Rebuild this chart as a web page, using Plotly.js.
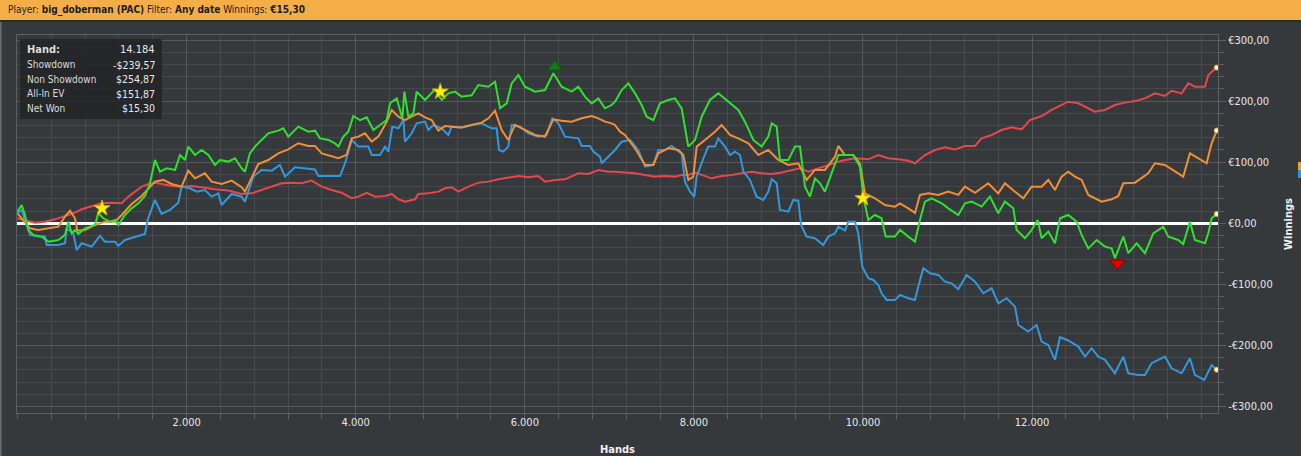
<!DOCTYPE html>
<html>
<head>
<meta charset="utf-8">
<script src="https://cdn.plot.ly/plotly-3.0.1.min.js"></script>
<style>
html,body{margin:0;padding:0;background:#36393c;overflow:hidden;}
#chart{width:1301px;height:456px;}
</style>
</head>
<body>
<div id="chart"></div>
<script>
// ---------- DATA (hand number, cumulative winnings) ----------
const nonShowdown = [[0,8.2],[89,5.5],[207,1.1],[325,2.7],[443,6.5],[562,12],[660,16.4],[759,22.9],[877,27.3],[995,32.7],[1114,33.8],[1232,32.7],[1311,43.6],[1390,51.8],[1469,60],[1548,64.4],[1626,66.5],[1705,64.4],[1823,61],[1941,60],[2060,61],[2178,59],[2336,55.6],[2493,53.5],[2651,48],[2769,49],[2887,54.5],[3006,61],[3124,65.5],[3242,66.5],[3360,65.5],[3479,70],[3519,66.5],[3598,60],[3716,54.5],[3834,50],[3953,41],[4031,43.6],[4130,50],[4229,43.6],[4347,44.7],[4426,48],[4505,39.3],[4583,35.5],[4702,39.3],[4741,48],[4859,49],[4977,51.8],[5056,57.3],[5135,59],[5214,51.8],[5332,60],[5451,66.5],[5569,68.2],[5687,72],[5805,75.3],[5924,77.5],[6042,75.3],[6160,77.5],[6239,68.2],[6357,71],[6476,72],[6633,81.8],[6751,80.7],[6870,87.3],[6988,84.5],[7067,84.5],[7185,83],[7304,81.8],[7422,79],[7540,76.4],[7658,77.5],[7777,76.4],[7855,79],[7934,79],[8013,83],[8092,79],[8210,73.6],[8328,77.5],[8447,79],[8565,81.8],[8683,84.5],[8801,81.8],[8920,80.7],[9038,83],[9156,86.2],[9255,90],[9353,84.5],[9471,90],[9590,95.5],[9748,102.5],[9905,106.4],[10063,104.7],[10181,111.8],[10299,106.4],[10418,104.7],[10536,102.5],[10615,98.2],[10733,111.8],[10852,120],[10970,124.4],[11088,121],[11206,126.6],[11325,126.6],[11403,139],[11522,144.6],[11640,152.7],[11758,157],[11876,153.8],[11975,169],[12113,175.6],[12231,185.5],[12349,193.6],[12428,199],[12547,196.4],[12665,188],[12744,182.7],[12862,185.5],[12980,193.6],[13098,197.5],[13217,200],[13335,204.5],[13453,212.7],[13571,208.4],[13650,217],[13769,212.7],[13848,229],[13926,223.6],[14045,223.6],[14084,242.7],[14184,254.87]];

const allInEV = [[0,16.4],[69,5.5],[148,-8.2],[246,-10.9],[365,-8.2],[483,-5.5],[562,10.9],[621,20.7],[680,8.2],[708,-12],[798,-10.9],[917,-2.7],[1035,2.7],[1153,2.7],[1232,13.6],[1350,31.6],[1469,44.7],[1548,57.3],[1626,68.2],[1725,71],[1823,64.4],[1941,60],[2020,86.2],[2099,73.6],[2217,81.8],[2296,68.2],[2414,64.4],[2533,69.8],[2651,59],[2690,51.8],[2769,75.3],[2848,97],[2966,103.6],[3084,114.5],[3203,121],[3321,131],[3439,126.6],[3519,126.6],[3598,114.5],[3716,109],[3795,106.4],[3893,112],[3953,139],[4031,141.8],[4110,147.3],[4189,133.6],[4268,141.8],[4367,166.4],[4426,185.5],[4505,174.5],[4583,169],[4662,174.5],[4741,180],[4820,173.5],[4899,169],[4977,151.6],[5056,159.3],[5135,158.2],[5253,157],[5372,161],[5490,164.7],[5569,171.8],[5648,184.4],[5727,152.7],[5805,136.4],[5884,161],[6002,152.7],[6121,144.6],[6239,141.8],[6338,170.2],[6436,168],[6554,166.4],[6673,171.8],[6791,175.6],[6870,171.8],[6949,166.4],[7027,163.6],[7067,161],[7126,150],[7185,144.6],[7304,122.7],[7422,95.5],[7520,95.5],[7579,114.5],[7698,122.7],[7816,120],[7875,111.8],[7934,71],[7993,76.4],[8033,125.5],[8131,136.4],[8249,150],[8328,161],[8427,144.6],[8525,139],[8644,131],[8762,111.8],[8880,120],[8999,103.6],[9117,95.5],[9235,98.2],[9334,71],[9432,87.3],[9550,87.3],[9669,109],[9708,126.6],[9787,111.8],[9885,111.8],[9964,98],[10023,49],[10141,41],[10260,30],[10378,27.3],[10438,32.7],[10536,24.5],[10615,17],[10674,46.4],[10773,49],[10891,46.4],[11009,51.8],[11127,46.4],[11206,60],[11325,50],[11482,65.5],[11600,49],[11679,65.5],[11798,51.8],[11896,41],[11995,60],[12113,60],[12192,71],[12271,54.5],[12349,76.4],[12428,84.5],[12507,76.4],[12586,71],[12665,46.4],[12744,41],[12823,35.5],[12941,39.3],[13020,44.7],[13079,65.5],[13217,66.5],[13374,81.8],[13453,98.2],[13571,95.5],[13690,84.5],[13788,76.4],[13867,114.5],[13966,106.4],[14065,98.2],[14124,131],[14184,151.87]];

const netWon = [[0,19],[49,30],[89,13.6],[128,-10.9],[187,-19],[286,-21.8],[365,-30],[483,-27.3],[562,-19],[601,2.7],[641,-16.4],[680,-10.9],[719,-17.5],[798,-8.2],[917,-2.7],[956,16.4],[1015,8.2],[1094,2.7],[1153,5.5],[1193,-2.7],[1271,13.6],[1350,24.5],[1429,32.7],[1508,44.7],[1567,65.5],[1626,103.6],[1685,84.5],[1764,90],[1863,87.3],[1922,111.8],[1981,103.6],[2020,125.5],[2099,111.8],[2178,120],[2257,111.8],[2336,95.5],[2395,103.6],[2493,101],[2572,106.4],[2651,90],[2690,84.5],[2749,114.5],[2808,125.5],[2887,136.4],[2966,147.3],[3084,151.6],[3144,155.5],[3203,141.8],[3321,158.2],[3439,150],[3519,151.6],[3578,139],[3677,136.4],[3755,131],[3795,125.5],[3854,141.8],[3913,150],[3972,175.6],[4051,169],[4130,173.5],[4209,152.7],[4288,160.9],[4367,169],[4406,196.4],[4485,204.5],[4552,171.8],[4576,215.5],[4623,174.5],[4682,180],[4721,215.5],[4820,201.8],[4938,219.3],[5017,201.8],[5096,212.7],[5175,215.5],[5253,207.3],[5372,209.5],[5451,226.4],[5569,223.6],[5648,231.8],[5707,188.2],[5786,196.4],[5845,229],[5924,242.7],[6002,223.6],[6121,215.5],[6239,218.2],[6338,245.5],[6436,223.6],[6554,215.5],[6633,223.6],[6712,207.3],[6791,196.4],[6870,204.5],[6949,188.2],[7027,193.6],[7067,199],[7146,218.2],[7225,229],[7304,212.7],[7382,193.6],[7441,174.5],[7520,169],[7599,196.4],[7698,201.8],[7776,204.5],[7855,188.2],[7934,125.5],[8013,136.4],[8092,174.5],[8190,201.8],[8289,212.7],[8407,199],[8525,185.5],[8604,166.4],[8703,136.4],[8801,125.5],[8880,141.8],[8920,163.6],[8979,158.2],[9018,103.6],[9117,103.6],[9196,125.5],[9255,125.5],[9314,60],[9373,43.6],[9432,73.6],[9491,65.5],[9550,51.8],[9629,81.8],[9708,111.8],[9787,111.8],[9885,111.8],[9964,92.7],[10004,43.6],[10063,5.5],[10141,13.6],[10220,8.2],[10268,-21.8],[10378,-21.8],[10438,-10.9],[10536,-21.8],[10615,-30],[10674,5.5],[10733,35.5],[10812,41],[10930,32.7],[11009,24.5],[11127,13.6],[11206,32.7],[11285,35.5],[11403,27.3],[11502,43.6],[11600,16.4],[11679,35.5],[11778,24.5],[11817,-10.9],[11916,-24.5],[11995,-10.9],[12066,5.5],[12113,-24.5],[12192,-13.6],[12271,-32.7],[12330,8.2],[12428,13.6],[12527,2.7],[12586,-19],[12665,-41],[12763,-27.3],[12862,-38.2],[12941,-41],[12980,-57.3],[13079,-21.8],[13138,-49],[13237,-32.7],[13335,-49],[13433,-16.4],[13552,-5.5],[13611,-21.8],[13729,-27.3],[13788,-33.8],[13867,2.7],[13926,-27.3],[14045,-32.7],[14084,-16.4],[14124,8.2],[14184,15.3]];

const showdown = [[0,16.4],[49,21.8],[89,5.5],[148,-19],[246,-21.8],[325,-21.8],[345,-35.5],[483,-35.5],[562,-32.7],[581,-8.2],[660,-16.4],[700,-43.6],[759,-32.7],[877,-38.2],[976,-20.7],[1035,-30],[1153,-30],[1193,-37],[1271,-27.3],[1390,-23],[1508,-17.5],[1539,5.5],[1626,38.2],[1705,15.3],[1803,21.8],[1902,33.8],[1941,60],[2040,57.3],[2119,51.8],[2217,54.5],[2296,43.6],[2375,49],[2414,30],[2533,48],[2651,43.6],[2690,35.5],[2749,60],[2789,76.4],[2887,87.3],[3006,86.2],[3104,95.5],[3164,76.4],[3282,91.6],[3419,90],[3519,88],[3558,77.5],[3677,77.5],[3815,77.5],[3874,98.2],[3953,136.4],[4031,125.5],[4150,125.5],[4189,111.8],[4288,111.8],[4347,125.5],[4386,117.3],[4433,158.2],[4505,155.5],[4564,169],[4583,133.6],[4662,147.3],[4721,163.6],[4820,166.4],[4859,152.7],[4918,160.9],[5017,155.5],[5096,144.6],[5135,158.2],[5253,157],[5372,161],[5490,163.6],[5608,155.5],[5667,155.5],[5695,120],[5746,117.3],[5805,125.5],[5845,161],[5943,158.2],[6042,147.3],[6160,141.8],[6258,144.6],[6326,171.8],[6397,163.6],[6476,141.8],[6633,139],[6673,126.6],[6771,126.6],[6811,117.3],[6890,109],[6909,98.2],[6988,109],[7067,120],[7146,133.6],[7244,136.4],[7343,120],[7422,92.7],[7520,95.5],[7579,120],[7658,120],[7737,126.6],[7796,120],[7855,114.5],[7894,68.2],[7954,51.8],[8005,43.6],[8033,76.4],[8112,106.4],[8170,125.5],[8249,125.5],[8289,139],[8368,125.5],[8427,111.8],[8486,117.3],[8545,111.8],[8585,84.5],[8663,70.9],[8742,43.6],[8821,38.2],[8880,51.8],[8920,72],[8979,65.5],[9018,21.8],[9117,19],[9176,38.2],[9235,37],[9267,-2.7],[9334,-21.8],[9432,-24.5],[9530,-35.5],[9590,-21.8],[9669,-16.4],[9708,-5.5],[9787,-12],[9826,2.7],[9905,2.7],[9944,-16.4],[9992,-70.9],[10063,-90],[10122,-92.7],[10181,-101],[10220,-114.5],[10280,-125.5],[10378,-125.5],[10438,-117.3],[10536,-122.7],[10615,-125.5],[10654,-103.6],[10714,-73.6],[10792,-81.8],[10891,-84.5],[10970,-95.5],[11048,-98.2],[11127,-108],[11226,-84.5],[11325,-95.5],[11423,-114.5],[11522,-106.4],[11600,-131],[11699,-122.7],[11798,-136.4],[11837,-166.4],[11955,-177.3],[12054,-166.4],[12113,-193.6],[12192,-199],[12271,-223.6],[12330,-186.4],[12428,-191.8],[12547,-201.8],[12626,-218.2],[12705,-204.5],[12783,-218.2],[12862,-223.6],[12980,-245.5],[13079,-218.2],[13138,-245.5],[13256,-248.2],[13335,-248.2],[13414,-229],[13571,-218.2],[13650,-237.3],[13769,-245.5],[13867,-221],[13926,-248.2],[14036,-256.4],[14124,-232],[14184,-239.57]];

// milestone stars, max / min markers
const starHands = [1000, 5000, 10000];
const starValues = [24.5, 215.4, 40.9];
const maxHand = [6357], maxValue = [256];
const minHand = [13008], minValue = [-65.5];

// axis ticks
const xTickVals = [2000, 4000, 6000, 8000, 10000, 12000];
const xTickText = ['2.000', '4.000', '6.000', '8.000', '10.000', '12.000'];
const yTickVals = [-300, -200, -100, 0, 100, 200, 300];
const yTickText = ['-€300,00', '-€200,00', '-€100,00', '€0,00', '€100,00', '€200,00', '€300,00'];

// info box
const statLabels = ['Hand:', 'Showdown', 'Non Showdown', 'All-In EV', 'Net Won'];
const statValues = ['14.184', '-$239,57', '$254,87', '$151,87', '$15,30'];

// header
const headerText = 'Player: <b>big_doberman (PAC)</b> Filter: <b>Any date</b> Winnings: <b>€15,30</b>';

// ---------- DRAW ----------
const FONT = 'DejaVu Sans Condensed, Liberation Sans, sans-serif';
const BG = '#36393c';
const W = 1301, H = 456;
const M = {l: 17, r: 83, t: 35, b: 43};
const pw = W - M.l - M.r, ph = H - M.t - M.b;
const px = x => (x - M.l) / pw;          // pixel -> paper x
const py = y => (H - M.b - y) / ph;      // pixel -> paper y

function line(series, color, name) {
  return {
    type: 'scatter', mode: 'lines', name: name,
    x: series.map(p => p[0]), y: series.map(p => p[1]),
    line: {color: color, width: 2, shape: 'linear'},
    hoverinfo: 'skip'
  };
}
const traces = [
  line(nonShowdown, '#e5484c', 'Non Showdown'),
  line(showdown, '#3397db', 'Showdown'),
  line(allInEV, '#f08f35', 'All-In EV'),
  line(netWon, '#2fe02f', 'Net Won'),
  {type: 'scatter', mode: 'markers', x: starHands, y: starValues,
   marker: {symbol: 'star', size: 12, color: '#fff200', line: {color: '#c8b400', width: 1}}, hoverinfo: 'skip'},
  {type: 'scatter', mode: 'markers', x: maxHand, y: maxValue,
   marker: {symbol: 'triangle-up', size: 13, color: '#127a12', line: {color: '#0b560b', width: 1}}, hoverinfo: 'skip'},
  {type: 'scatter', mode: 'markers', x: minHand, y: minValue,
   marker: {symbol: 'triangle-down', size: 13, color: '#e40000', line: {color: '#8a0000', width: 1}}, hoverinfo: 'skip'},
  {type: 'scatter', mode: 'markers',
   x: [nonShowdown, allInEV, netWon, showdown].map(s => s[s.length - 1][0]),
   y: [nonShowdown, allInEV, netWon, showdown].map(s => s[s.length - 1][1]),
   marker: {symbol: 'circle', size: 5, color: '#fff6e0', line: {color: '#f0a030', width: 1}}, hoverinfo: 'skip'}
];

const shapes = [
  // header bar
  {type: 'rect', xref: 'paper', yref: 'paper', x0: px(0), x1: px(W), y0: py(20), y1: py(0),
   fillcolor: '#f5ad47', line: {width: 0}, layer: 'above'},
  {type: 'rect', xref: 'paper', yref: 'paper', x0: px(0), x1: px(W), y0: py(22), y1: py(20),
   fillcolor: '#2a2c2f', line: {width: 0}, layer: 'above'},
  // left border
  {type: 'rect', xref: 'paper', yref: 'paper', x0: px(0), x1: px(1.5), y0: py(H), y1: py(22),
   fillcolor: '#6a6d70', line: {width: 0}, layer: 'above'},
  // info box
  {type: 'rect', xref: 'paper', yref: 'paper', x0: px(20), x1: px(162), y0: py(119), y1: py(39),
   fillcolor: 'rgba(34,35,37,0.88)', line: {width: 0}, layer: 'above'},
  // clipped legend sliver at right edge
  {type: 'rect', xref: 'paper', yref: 'paper', x0: px(1298), x1: px(W), y0: py(170), y1: py(162),
   fillcolor: '#f0a030', line: {width: 0}, layer: 'above'},
  {type: 'rect', xref: 'paper', yref: 'paper', x0: px(1298), x1: px(W), y0: py(178), y1: py(170),
   fillcolor: '#2f8fd8', line: {width: 0}, layer: 'above'}
];

const rowY = [49.5, 64.5, 79, 94, 108.5];
const annotations = [
  {xref: 'paper', yref: 'paper', x: px(6), y: py(10), xanchor: 'left', yanchor: 'middle',
   text: headerText, showarrow: false, font: {family: FONT, size: 10, color: '#1e1e1e'}}
];
statLabels.forEach((t, i) => {
  annotations.push({xref: 'paper', yref: 'paper', x: px(25), y: py(rowY[i]), xanchor: 'left', yanchor: 'middle',
    text: i === 0 ? '<b>' + t + '</b>' : t, showarrow: false, font: {family: FONT, size: i === 0 ? 11 : 10, color: '#dcdcdc'}});
  annotations.push({xref: 'paper', yref: 'paper', x: px(157), y: py(rowY[i]), xanchor: 'right', yanchor: 'middle',
    text: statValues[i], showarrow: false, font: {family: FONT, size: i === 0 ? 11 : 10.5, color: '#e8e8e8'}});
});

const layout = {
  width: W, height: H,
  paper_bgcolor: BG, plot_bgcolor: BG,
  margin: M, showlegend: false,
  font: {family: FONT, color: '#e6e6e6', size: 11},
  xaxis: {
    range: [-6, 14199], tickmode: 'array', tickvals: xTickVals, ticktext: xTickText,
    showgrid: true, gridcolor: '#55585c', gridwidth: 1, zeroline: false,
    ticks: 'outside', ticklen: 5, tickcolor: '#5c5f63', ticklabelstandoff: -6,
    tickfont: {family: FONT, size: 11, color: '#e6e6e6'},
    minor: {tick0: 0, dtick: 400, showgrid: true, gridcolor: '#45484c', ticks: 'outside', ticklen: 5, tickcolor: '#5c5f63'},
    showline: true, linecolor: '#5c5f63', linewidth: 1, mirror: true,
    title: {text: '<b>Hands</b>', font: {family: FONT, size: 11, color: '#f0f0f0'}, standoff: 20}
  },
  yaxis: {
    side: 'right', range: [-310.5, 308.2], tickmode: 'array', tickvals: yTickVals, ticktext: yTickText,
    showgrid: true, gridcolor: '#55585c', gridwidth: 1,
    zeroline: true, zerolinecolor: '#ffffff', zerolinewidth: 3,
    ticks: 'outside', ticklen: 7, tickcolor: '#5c5f63',
    tickfont: {family: FONT, size: 11, color: '#e6e6e6'},
    minor: {tick0: 0, dtick: 20, showgrid: true, gridcolor: '#45484c', ticks: 'outside', ticklen: 5, tickcolor: '#5c5f63'},
    showline: true, linecolor: '#5c5f63', linewidth: 1, mirror: true,
    title: {text: '<b>Winnings</b>', font: {family: FONT, size: 11, color: '#f0f0f0'}, standoff: 12}
  },
  shapes: shapes,
  annotations: annotations
};

Plotly.newPlot('chart', traces, layout, {displayModeBar: false, staticPlot: true});
</script>
</body>
</html>
